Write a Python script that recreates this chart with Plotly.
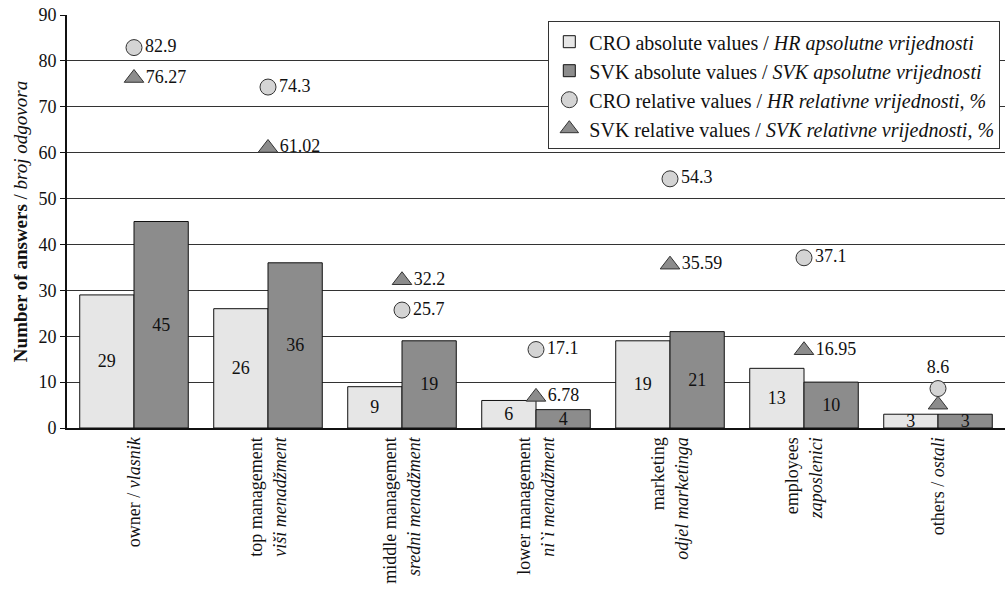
import plotly.graph_objects as go

categories = [
    "owner / <i>vlasnik</i>",
    "top management<br><i>viši menadžment</i>",
    "middle management<br><i>sredni menadžment</i>",
    "lower management<br><i>ni`i menadžment</i>",
    "marketing<br><i>odjel marketinga</i>",
    "employees<br><i>zaposlenici</i>",
    "others / <i>ostali</i>",
]
cro_abs = [29, 26, 9, 6, 19, 13, 3]
svk_abs = [45, 36, 19, 4, 21, 10, 3]
cro_rel = [82.9, 74.3, 25.7, 17.1, 54.3, 37.1, 8.6]
svk_rel = [76.27, 61.02, 32.2, 6.78, 35.59, 16.95, 5.08]
svk_rel_labels = ["76.27", "61.02", "32.2", "6.78", "35.59", "16.95", ""]
cro_rel_labels = [str(v) for v in cro_rel]
cro_rel_pos = ["middle right"] * 6 + ["top center"]

FONT = "Liberation Serif"
fig = go.Figure()
fig.add_trace(go.Bar(
    x=categories, y=cro_abs, name="CRO absolute values / <i>HR apsolutne vrijednosti</i>",
    marker=dict(color="#e6e6e6", line=dict(color="#111", width=1)),
    text=[str(v) for v in cro_abs], textposition="inside", insidetextanchor="middle",
    textangle=0, constraintext="none", textfont=dict(family=FONT, size=18, color="#111"),
))
fig.add_trace(go.Bar(
    x=categories, y=svk_abs, name="SVK absolute values / <i>SVK apsolutne vrijednosti</i>",
    marker=dict(color="#8c8c8c", line=dict(color="#111", width=1)),
    text=[str(v) for v in svk_abs], textposition="inside", insidetextanchor="middle",
    textangle=0, constraintext="none", textfont=dict(family=FONT, size=18, color="#111"),
))
fig.add_trace(go.Scatter(
    x=categories, y=cro_rel, mode="markers+text", name="CRO relative values / <i>HR relativne vrijednosti, %</i>",
    marker=dict(symbol="circle", size=16, color="#d4d4d4", line=dict(color="#333", width=1)),
    text=cro_rel_labels, textposition=cro_rel_pos, textfont=dict(family=FONT, size=18, color="#111"),
))
fig.add_trace(go.Scatter(
    x=categories, y=svk_rel, mode="markers+text", name="SVK relative values / <i>SVK relativne vrijednosti, %</i>",
    marker=dict(symbol="triangle-up", size=17, color="#8c8c8c", line=dict(color="#333", width=1)),
    text=svk_rel_labels, textposition="middle right", textfont=dict(family=FONT, size=18, color="#111"),
))

fig.update_layout(
    width=1008, height=589,
    margin=dict(l=67, r=3, t=15, b=161),
    paper_bgcolor="white", plot_bgcolor="white",
    font=dict(family=FONT, size=18, color="#111"),
    barmode="group", bargap=0.19, bargroupgap=0,
    showlegend=True,
    legend=dict(
        x=0.995, xanchor="right", y=0.985, yanchor="top",
        bordercolor="#333", borderwidth=1, bgcolor="white",
        font=dict(family=FONT, size=20, color="#111"),
        tracegroupgap=0, itemwidth=30,
    ),
)
fig.update_yaxes(
    range=[0, 90], dtick=10, showgrid=True, gridcolor="#333", gridwidth=1,
    showline=True, linecolor="#111", linewidth=2, ticks="outside", ticklen=5,
    tickcolor="#111", tickfont=dict(family=FONT, size=18),
    title=dict(text="<b>Number of answers</b> / <i>broj odgovora</i>", font=dict(family=FONT, size=19), standoff=6),
    zeroline=False,
)
fig.update_xaxes(
    showline=True, linecolor="#111", linewidth=2, ticks="", tickangle=-90,
    tickfont=dict(family=FONT, size=18),
)
fig.write_html("out.html")
